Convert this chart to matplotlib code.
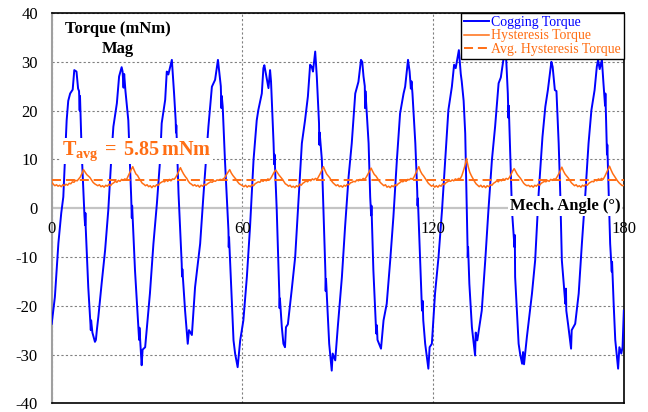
import matplotlib
matplotlib.use("Agg")
import matplotlib.pyplot as plt
import numpy as np

plt.rcParams["font.family"] = ["Liberation Serif", "DejaVu Serif"]
plt.rcParams["axes.unicode_minus"] = False
plt.rcParams["mathtext.fontset"] = "custom"
plt.rcParams["mathtext.rm"] = "Liberation Serif"
plt.rcParams["mathtext.bf"] = "Liberation Serif:bold"
plt.rcParams["lines.scale_dashes"] = False

# ---- cogging torque (mNm) vs mechanical angle (deg) ----
cog_deg = [
    0.0, 1.0, 2.1, 3.0, 3.65, 4.7, 5.2, 5.8, 6.6, 7.1, 7.8, 8.3, 8.6, 8.8, 8.9, 9.4,
    10.3, 10.5, 10.6, 10.7, 11.5, 12.3, 12.4, 12.8, 13.6, 13.9, 14.2, 14.67,
    15.7, 16.8, 17.8, 18.9, 19.4, 20.5, 21.2, 22.0, 22.3, 22.6, 22.8, 23.2, 24.1,
    25.0, 25.2, 25.3, 26.2, 27.3, 27.5, 27.6, 28.3, 28.6, 29.4, 30.4, 30.9,
    32.0, 33.1, 34.1, 34.6, 35.7, 36.2, 36.7, 37.8, 38.5, 39.0, 39.1, 39.2, 39.9,
    40.9, 41.0, 41.1, 41.96, 42.8, 43.2, 44.1, 45.1, 46.7,
    47.7, 49.3, 50.4, 51.4, 52.3, 52.7, 53.2, 53.4, 53.5, 53.8, 54.5, 55.6, 55.7,
    55.8, 56.7, 57.2, 57.7, 58.5, 59.3, 60.3, 61.4, 62.4,
    63.5, 64.5, 65.0, 66.1, 66.6, 66.9, 67.4, 68.2, 68.7, 69.0, 69.8, 70.0, 70.1,
    70.8, 71.6, 71.7, 71.8, 72.4, 72.9, 73.4, 73.7, 74.3, 75.5, 76.6,
    77.6, 78.7, 79.7, 80.6, 81.3, 81.8, 82.2, 82.9, 83.4, 84.1, 84.2, 84.3, 85.0,
    85.8, 86.1, 86.2, 86.3, 87.3, 88.1, 88.4, 89.2, 90.0, 91.3, 92.3,
    93.4, 94.4, 95.5, 96.5, 97.3, 97.7, 98.1, 98.5, 98.6, 98.7, 99.7, 100.2, 100.5,
    100.6, 101.2, 102.1, 102.3, 102.5, 103.6, 104.4, 105.4, 106.5, 107.5,
    108.6, 109.6, 110.7, 111.2, 112.1, 112.6, 113.0, 113.2, 113.5, 114.4, 115.0,
    115.1, 115.2, 115.9, 116.5, 116.7, 116.9, 117.5, 118.5, 118.9, 119.6, 120.6,
    121.7, 122.8,
    123.8, 124.8, 125.9, 126.6, 127.1, 128.1, 128.7, 129.0, 129.6, 130.1, 130.6,
    130.9, 131.0, 131.4, 132.2, 133.2, 133.4, 133.9, 135.3, 136.4, 137.4,
    138.5, 139.5, 140.6, 141.3, 142.1, 142.9, 143.5, 143.7, 143.8, 144.8, 145.6,
    145.7, 145.8, 146.9, 147.4, 148.0, 148.3, 148.6, 149.5, 151.1, 152.1,
    153.2, 154.4, 155.3, 156.1, 157.2, 157.6, 158.3, 158.8, 159.5, 160.0, 160.5,
    161.6, 161.8, 161.9, 162.5, 163.4, 163.6, 164.7, 165.8, 166.8,
    167.9, 168.9, 169.8, 170.8, 171.5, 171.9, 172.4, 173.1, 173.6, 174.1, 174.2,
    174.6, 174.7, 174.8, 175.7, 176.2, 176.3, 176.8, 177.3, 178.2, 178.6, 179.2,
    179.6, 180.0,
]
cog_val = [
    -23.7, -18.2, -7.2, -1.0, 2.3, 18.0, 22.0, 23.5, 24.3, 28.3, 28.0, 24.5, 24.0, 20.0, 23.0, 12.0,
    -1.5, -3.5, -1.0, -4.0, -16.2, -25.0, -23.0, -25.5, -27.4, -27.0, -25.0, -22.3,
    -15.5, -8.6, -0.4, 11.9, 16.7, 21.5, 27.0, 28.9, 28.0, 24.7, 27.5, 24.0, 18.0,
    2.3, -2.0, 0.5, -12.7, -25.0, -27.0, -24.5, -32.2, -29.0, -28.5, -21.0, -17.5,
    -7.3, 1.0, 9.9, 17.4, 22.2, 28.0, 27.4, 30.4, 23.5, 18.0, 15.5, 17.0, 3.0,
    -11.4, -14.0, -12.5, -21.0, -27.8, -25.0, -26.0, -16.2, -7.3,
    2.3, 16.7, 24.9, 26.3, 30.4, 28.0, 25.0, 20.5, 23.0, 20.8, 9.9, -4.5, -8.0,
    -6.0, -19.6, -27.1, -29.8, -32.6, -27.1, -23.0, -14.1, -3.8,
    9.9, 18.0, 20.1, 23.5, 28.7, 29.3, 27.5, 24.6, 28.3, 26.0, 13.3, 9.0, 11.0,
    -0.4, -17.5, -20.5, -18.5, -24.4, -27.8, -28.5, -24.4, -23.8, -16.8, -10.0,
    1.0, 13.3, 18.0, 22.9, 29.4, 29.0, 28.0, 32.1, 27.0, 17.4, 13.0, 15.5, 9.9,
    -7.3, -13.0, -17.0, -14.5, -27.8, -33.3, -29.8, -31.2, -24.4, -14.1, -3.8,
    6.4, 13.3, 23.5, 25.9, 30.4, 30.0, 27.0, 25.0, 20.5, 24.0, 13.3, 2.3, -1.5,
    0.5, -12.7, -25.7, -24.0, -27.0, -28.8, -23.0, -19.6, -10.7, -1.8,
    9.9, 19.4, 23.5, 24.9, 30.4, 28.0, 24.5, 26.0, 23.5, 13.3, 3.5,
    0.5, 2.0, -10.7, -21.0, -19.0, -23.0, -27.8, -32.9, -28.5, -27.8, -17.5,
    -10.0, -0.4,
    9.9, 20.1, 24.9, 29.4, 28.7, 32.4, 27.5, 26.0, 22.0, 15.3, -0.4,
    -10.0, -8.0, -15.5, -24.4, -30.2, -25.5, -27.1, -21.0, -10.7, -0.4,
    9.9, 16.7, 25.6, 26.8, 30.4, 31.8, 23.5, 18.5, 21.0, -0.4, -8.0,
    -5.5, -14.1, -27.8, -30.0, -31.9, -29.5, -32.0, -26.4, -17.5, -10.7,
    3.0, 14.6, 20.8, 24.2, 30.0, 29.0, 24.2, 24.0, 13.3, 3.0, -10.7,
    -19.6, -16.5, -21.0, -24.0, -28.8, -25.0, -23.7, -17.5, -7.3,
    3.0, 13.3, 20.1, 24.2, 29.0, 30.4, 28.5, 30.4, 25.5, 21.0, 23.5,
    14.0, 11.0, 13.0, -7.3, -13.0, -11.0, -19.6, -27.0, -32.9, -28.5, -29.8,
    -28.5, -21.0,
]

# ---- hysteresis torque (mNm), sampled every 0.5 deg from 0 to 180 ----
hys_step = 0.5
hys_val = [
    5.4, 4.9, 4.6, 4.8, 4.5, 4.7, 4.4, 4.8, 4.6, 4.9, 4.7, 5.1, 5.0, 5.4, 5.3, 5.7, 5.6, 6.0, 6.4, 7.1, 7.9, 7.4, 6.9, 6.6, 6.3, 5.8, 5.3, 5.0, 4.8, 4.6,
    4.8, 4.4, 4.6, 4.3, 4.7, 4.5, 4.9, 4.6, 5.0, 5.2, 5.5, 5.3, 5.7, 5.5, 5.9, 5.7, 6.0, 5.8, 6.5, 7.2, 7.9, 8.5, 7.7, 7.0, 6.7, 6.1, 5.6, 5.1, 4.9, 4.6,
    4.8, 4.4, 4.6, 4.2, 4.6, 4.4, 4.8, 4.7, 5.1, 5.3, 5.5, 5.4, 5.8, 5.5, 5.9, 5.6, 6.0, 5.9, 6.3, 6.9, 7.6, 8.3, 7.6, 7.0, 6.5, 6.1, 5.5, 5.1, 4.9, 4.6,
    4.8, 4.5, 4.7, 4.3, 4.7, 4.5, 4.9, 4.7, 5.0, 5.2, 5.4, 5.3, 5.6, 5.5, 5.8, 5.7, 5.9, 5.8, 6.0, 6.3, 6.9, 7.4, 7.9, 7.2, 6.7, 6.3, 5.9, 5.4, 5.0, 4.8,
    4.6, 4.4, 4.7, 4.3, 4.6, 4.4, 4.8, 4.6, 5.0, 5.2, 5.4, 5.3, 5.7, 5.5, 5.8, 5.6, 6.0, 5.8, 6.2, 6.8, 7.4, 7.8, 7.3, 6.8, 6.4, 6.0, 5.5, 5.0, 4.8, 4.5,
    4.7, 4.3, 4.5, 4.2, 4.6, 4.4, 4.9, 4.7, 5.1, 5.3, 5.6, 5.4, 5.8, 5.6, 6.0, 5.8, 6.1, 5.9, 6.5, 7.1, 7.8, 8.5, 7.7, 7.0, 6.6, 6.2, 5.6, 5.2, 4.9, 4.6,
    4.8, 4.4, 4.6, 4.3, 4.7, 4.5, 4.9, 4.8, 5.2, 5.3, 5.5, 5.4, 5.8, 5.6, 5.9, 5.7, 6.1, 5.9, 6.4, 7.0, 7.6, 8.2, 7.5, 6.9, 6.6, 6.1, 5.6, 5.2, 4.9, 4.6,
    4.8, 4.3, 4.5, 4.2, 4.6, 4.4, 4.8, 4.6, 5.0, 5.2, 5.5, 5.4, 5.7, 5.5, 5.9, 5.8, 6.1, 5.9, 6.4, 7.1, 7.8, 8.5, 7.6, 7.0, 6.6, 6.1, 5.6, 5.1, 4.8, 4.5,
    4.7, 4.3, 4.6, 4.3, 4.7, 4.5, 5.0, 4.8, 5.2, 5.4, 5.6, 5.5, 5.8, 5.6, 6.0, 5.8, 6.1, 6.0, 6.6, 7.6, 8.7, 10.2, 8.6, 7.4, 6.7, 6.1, 5.5, 5.0, 4.7, 4.4,
    4.7, 4.3, 4.6, 4.2, 4.6, 4.4, 4.8, 4.7, 5.1, 5.3, 5.6, 5.4, 5.8, 5.6, 6.0, 5.8, 6.1, 5.9, 6.3, 6.9, 7.6, 8.1, 7.5, 6.9, 6.5, 6.1, 5.6, 5.1, 4.8, 4.6,
    4.7, 4.4, 4.6, 4.3, 4.7, 4.5, 4.9, 4.7, 5.1, 5.3, 5.5, 5.4, 5.7, 5.5, 5.9, 5.7, 6.0, 5.9, 6.4, 7.0, 7.7, 8.4, 7.6, 7.0, 6.6, 6.2, 5.7, 5.2, 4.9, 4.6,
    4.8, 4.4, 4.6, 4.3, 4.7, 4.5, 4.9, 4.7, 5.1, 5.3, 5.5, 5.4, 5.8, 5.6, 6.0, 5.8, 6.1, 5.9, 6.5, 7.2, 7.9, 8.6, 7.8, 7.1, 6.6, 6.1, 5.6, 5.2, 4.9, 4.6,
    4.7,
]
hys_avg = 5.85

x_ticks = [0, 60, 120, 180]
y_ticks = [-40, -30, -20, -10, 0, 10, 20, 30, 40]

BLUE = "#0000FF"
ORANGE = "#FF6E14"

fig = plt.figure(figsize=(6.48, 4.12), dpi=100)
ax = fig.add_axes([0.0798, 0.0211, 0.8829, 0.9473])

ax.set_xlim(0, 180)
ax.set_ylim(-40, 40)

# grid
ax.set_xticks(x_ticks)
ax.set_xticklabels([])
ax.set_yticks(y_ticks)
ax.set_yticklabels([str(v) for v in y_ticks], fontsize=12)
ax.tick_params(axis="both", length=0)
ax.tick_params(axis="y", pad=10)
ax.grid(True, color="#808080", lw=0.8, linestyle=(0, (1.6, 1.6)), zorder=0)
for v, gl in zip(y_ticks, ax.get_ygridlines()):
    if v == 0:
        gl.set_visible(False)
ax.set_axisbelow(True)

ax.axhline(0, color="#C4C4C4", lw=1.6, zorder=1)

hys_deg = np.arange(len(hys_val)) * hys_step
ax.plot(cog_deg, cog_val, color=BLUE, lw=1.4, zorder=3, label="Cogging Torque")
ax.plot(hys_deg, hys_val, color=ORANGE, lw=1.1, zorder=4, label="Hysteresis Torque")
ax.plot([0, 180], [hys_avg, hys_avg], color=ORANGE, lw=1.4, dashes=(6.5, 3.5),
        zorder=4, label="Avg. Hysteresis Torque")

# spines
for side in ["top", "right", "bottom"]:
    ax.spines[side].set_color("black")
    ax.spines[side].set_linewidth(1.2)
ax.spines["left"].set_color("#A0A0A0")
ax.spines["left"].set_linewidth(1.5)

# x tick labels along the zero line
for xv in x_ticks:
    ax.text(xv, -4.2, str(xv), ha="center", va="center", fontsize=12, zorder=6)

ax.text(178.9, -0.4, "Mech. Angle (°)", ha="right", va="baseline", fontsize=12,
        fontweight="bold", zorder=7,
        bbox=dict(facecolor="white", edgecolor="none", pad=1.5))

ax.text(20.9, 35.9, "Torque (mNm)", ha="center", va="baseline", fontsize=12,
        fontweight="bold", zorder=7)
ax.text(20.9, 31.8, "Mag", ha="center", va="baseline", fontsize=12,
        fontweight="bold", zorder=7)

ax.text(3.3, 10.9, r"$\mathbf{T_{avg}\,{=}\,%.2f\,mNm}$" % hys_avg, ha="left",
        va="baseline", fontsize=14.5, color=ORANGE, zorder=7,
        bbox=dict(facecolor="white", edgecolor="none", pad=1.0))

leg = ax.legend(loc="upper right", bbox_to_anchor=(1.0, 1.0), borderaxespad=0.0,
                fontsize=10, frameon=True, fancybox=False, framealpha=1.0,
                edgecolor="black", handlelength=1.8, handletextpad=0.15,
                labelspacing=0.05, borderpad=0.2)
leg.get_frame().set_linewidth(1.0)
leg.set_zorder(8)
for txt, col in zip(leg.get_texts(), [BLUE, ORANGE, ORANGE]):
    txt.set_color(col)

fig.savefig("out.png", dpi=100)
